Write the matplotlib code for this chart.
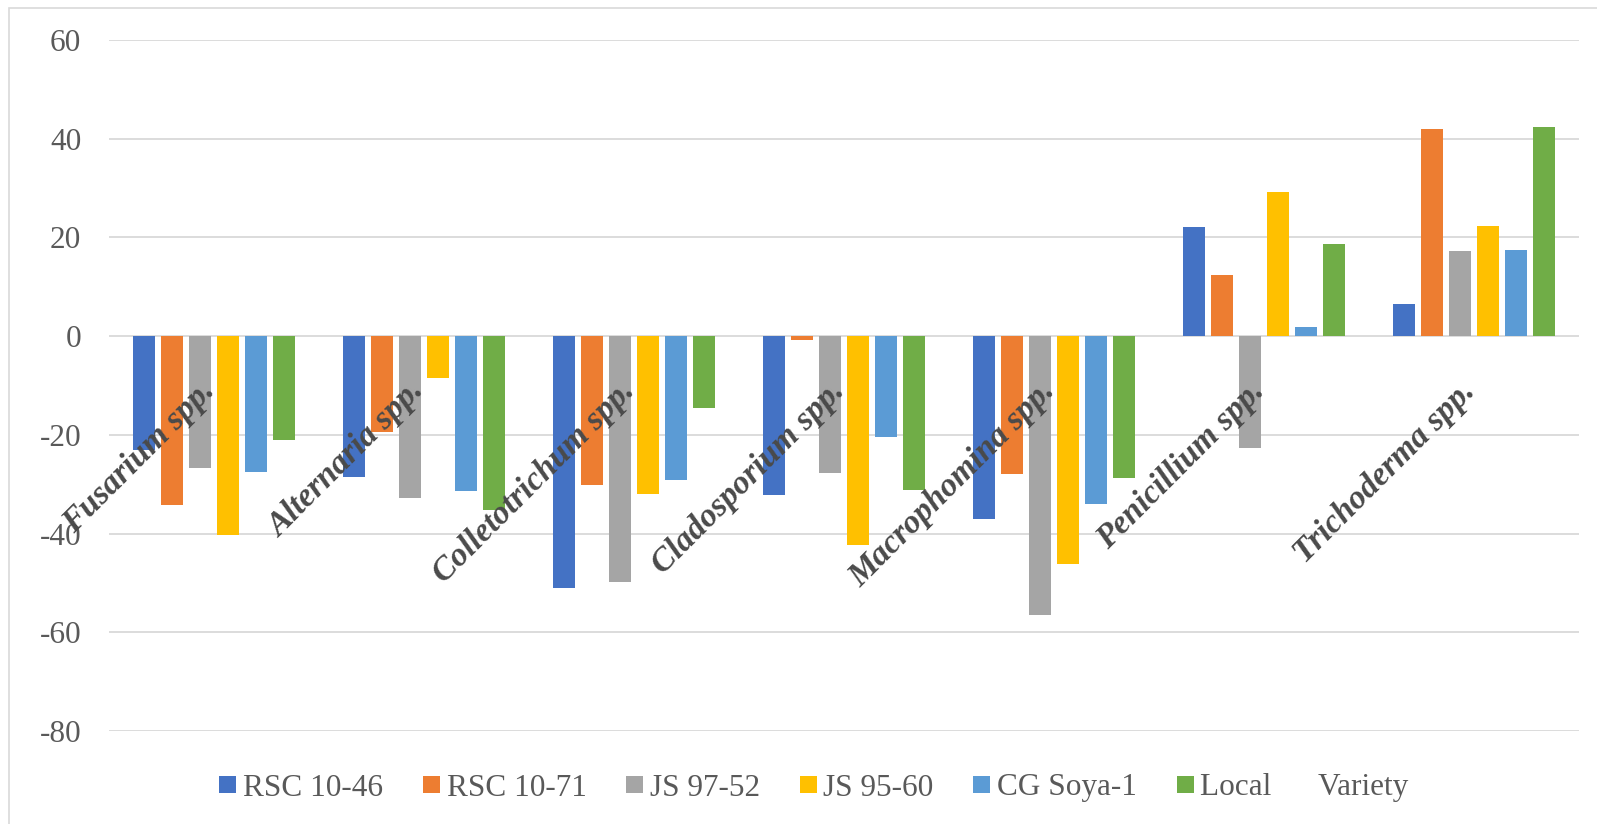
import matplotlib
matplotlib.use("Agg")
import matplotlib.pyplot as plt
from matplotlib.patches import Rectangle
import numpy as np

plt.rcParams['font.family'] = 'serif'
plt.rcParams['font.serif'] = ['Liberation Serif', 'DejaVu Serif']
plt.rcParams['axes.unicode_minus'] = False

# fungal groups and soybean varieties
fungi = ['Fusarium spp.', 'Alternaria spp.', 'Colletotrichum spp.', 'Cladosporium spp.',
         'Macrophomina spp.', 'Penicillium spp.', 'Trichoderma spp.']
varieties = ['RSC 10-46', 'RSC 10-71', 'JS 97-52', 'JS 95-60', 'CG Soya-1', 'Local      Variety']

rsc_1046 = [-23.1, -28.5, -51.0, -32.2, -37.0, 22.1, 6.6]
rsc_1071 = [-34.3, -19.5, -30.1, -0.7, -27.9, 12.4, 42.0]
js_9752 = [-26.8, -32.8, -49.8, -27.8, -56.4, -22.6, 17.2]
js_9560 = [-40.2, -8.4, -31.9, -42.4, -46.1, 29.2, 22.3]
cg_soya1 = [-27.6, -31.3, -29.1, -20.5, -34.1, 1.9, 17.5]
local_var = [-21.0, -35.2, -14.5, -31.1, -28.7, 18.6, 42.4]

series = [rsc_1046, rsc_1071, js_9752, js_9560, cg_soya1, local_var]
colors = ['#4472C4', '#ED7D31', '#A5A5A5', '#FFC000', '#5B9BD5', '#70AD47']

W, H = 1597, 824
fig = plt.figure(figsize=(W / 100, H / 100), dpi=100)

ax = fig.add_axes([109 / W, 93 / H, (1579 - 109) / W, (731 - 40) / H])

x = np.arange(len(fungi))
slot = 0.134
bw = 0.105
for i, (vals, c, lab) in enumerate(zip(series, colors, varieties)):
    ax.bar(x + (i - 2.5) * slot, vals, width=bw, color=c, label=lab, zorder=3)

ax.set_xlim(-0.5, 6.5)
ax.set_ylim(-80, 60)
ax.set_yticks(range(-80, 61, 20))
ax.yaxis.grid(True, color='#D9D9D9', linewidth=1.3, zorder=0)
ax.set_axisbelow(True)
for s in ax.spines.values():
    s.set_visible(False)
ax.tick_params(axis='y', length=0, pad=20, labelsize=22.5, labelcolor='#595959')
ax.set_xticks([])

# category labels rotated next to the zero line
for xi, name in zip(x, fungi):
    ax.text(xi + 0.01, -11.4, name, rotation=45, rotation_mode='anchor',
            ha='right', va='baseline', fontsize=24, fontweight='bold',
            fontstyle='italic', color='#4a4a4a', zorder=4)

leg = ax.legend(loc='center', bbox_to_anchor=(814 / W, 36 / H),
                bbox_transform=fig.transFigure, ncol=6, frameon=False,
                fontsize=22.5, handlelength=0.54, handleheight=0.5,
                handletextpad=0.22, columnspacing=1.27, borderaxespad=0)
for t in leg.get_texts():
    t.set_color('#595959')

# chart area border
fig.patches.append(Rectangle((8.5 / W, -0.1), 1.2, (H - 8.5) / H + 0.1,
                             transform=fig.transFigure, fill=False,
                             edgecolor='#D9D9D9', linewidth=1.2))

fig.savefig('out.png', dpi=100)
